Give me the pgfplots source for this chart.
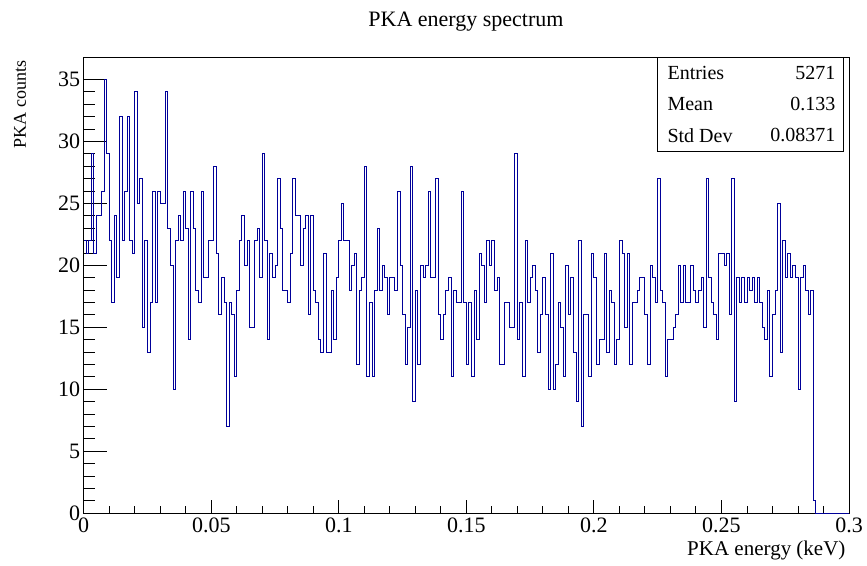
\documentclass[border=0pt]{standalone}
\usepackage{fontspec}
\setmainfont{Liberation Serif}
\usepackage{pgfplots}
\pgfplotsset{compat=1.18}
\definecolor{rootblue}{rgb}{0,0,0.6}
\begin{document}
\begin{tikzpicture}[x=1pt,y=1pt]
\useasboundingbox[fill=white] (0,0) rectangle (867,565);
% frame + x ticks
\begin{axis}[at={(83.7pt,51.7pt)}, anchor=south west, scale only axis,
  width=765.3pt, height=455.6pt,
  xmin=0, xmax=0.3, ymin=0, ymax=36.75,
  tick align=inside, tick pos=left,
  xtick={0,0.05,0.1,0.15,0.2,0.25,0.3},
  xticklabels={0,0.05,0.1,0.15,0.2,0.25,0.3},
  minor x tick num=4, ytick=\empty,
  major tick length=13.7pt, minor tick length=6.85pt,
  axis line style={line width=0.9pt},
  every tick/.style={black, line width=0.9pt},
  xticklabel style={font=\fontsize{22}{24}\selectfont, yshift=-1pt},
  /pgf/number format/assume math mode=true]
\end{axis}
% y ticks + histogram
\begin{axis}[at={(83.7pt,51.7pt)}, anchor=south west, scale only axis,
  width=765.3pt, height=455.6pt,
  xmin=0, xmax=0.3, ymin=0, ymax=36.75,
  tick align=inside, tick pos=left,
  ytick={0,5,10,15,20,25,30,35},
  yticklabels={0,5,10,15,20,25,30,35},
  minor y tick num=4, xtick=\empty,
  major tick length=23pt, minor tick length=11.5pt,
  axis line style={line width=0.9pt},
  every tick/.style={black, line width=0.9pt},
  yticklabel style={font=\fontsize{22}{24}\selectfont, xshift=0pt},
  /pgf/number format/assume math mode=true]
\addplot[const plot, rootblue, line width=0.9pt, mark=none] coordinates {
(0.000,22) (0.001,21) (0.002,22) (0.003,29) (0.004,21) (0.005,24) (0.006,24) (0.007,26) (0.008,35) (0.009,29)
(0.010,22) (0.011,17) (0.012,24) (0.013,19) (0.014,32) (0.015,22) (0.016,26) (0.017,32) (0.018,22) (0.019,21)
(0.020,34) (0.021,25) (0.022,27) (0.023,15) (0.024,22) (0.025,13) (0.026,17) (0.027,26) (0.028,17) (0.029,26)
(0.030,25) (0.031,25) (0.032,34) (0.033,23) (0.034,20) (0.035,10) (0.036,22) (0.037,24) (0.038,22) (0.039,26)
(0.040,23) (0.041,14) (0.042,26) (0.043,23) (0.044,18) (0.045,17) (0.046,26) (0.047,19) (0.048,19) (0.049,22)
(0.050,22) (0.051,28) (0.052,21) (0.053,16) (0.054,19) (0.055,17) (0.056,7) (0.057,17) (0.058,16) (0.059,11)
(0.060,18) (0.061,22) (0.062,24) (0.063,20) (0.064,22) (0.065,15) (0.066,15) (0.067,22) (0.068,23) (0.069,19)
(0.070,29) (0.071,22) (0.072,14) (0.073,21) (0.074,19) (0.075,20) (0.076,27) (0.077,23) (0.078,18) (0.079,18)
(0.080,17) (0.081,21) (0.082,27) (0.083,24) (0.084,24) (0.085,20) (0.086,23) (0.087,24) (0.088,16) (0.089,24)
(0.090,18) (0.091,17) (0.092,14) (0.093,13) (0.094,21) (0.095,13) (0.096,13) (0.097,18) (0.098,14) (0.099,19)
(0.100,22) (0.101,25) (0.102,22) (0.103,22) (0.104,18) (0.105,20) (0.106,21) (0.107,12) (0.108,18) (0.109,19)
(0.110,28) (0.111,11) (0.112,17) (0.113,11) (0.114,18) (0.115,23) (0.116,18) (0.117,20) (0.118,19) (0.119,16)
(0.120,19) (0.121,19) (0.122,18) (0.123,26) (0.124,20) (0.125,16) (0.126,12) (0.127,15) (0.128,28) (0.129,9)
(0.130,18) (0.131,12) (0.132,20) (0.133,19) (0.134,20) (0.135,26) (0.136,19) (0.137,19) (0.138,27) (0.139,16)
(0.140,14) (0.141,16) (0.142,18) (0.143,19) (0.144,11) (0.145,18) (0.146,17) (0.147,17) (0.148,26) (0.149,17)
(0.150,12) (0.151,17) (0.152,11) (0.153,18) (0.154,14) (0.155,21) (0.156,20) (0.157,17) (0.158,22) (0.159,20)
(0.160,22) (0.161,18) (0.162,19) (0.163,12) (0.164,12) (0.165,17) (0.166,17) (0.167,15) (0.168,15) (0.169,29)
(0.170,14) (0.171,17) (0.172,11) (0.173,22) (0.174,17) (0.175,19) (0.176,20) (0.177,18) (0.178,13) (0.179,16)
(0.180,19) (0.181,16) (0.182,10) (0.183,21) (0.184,10) (0.185,12) (0.186,17) (0.187,15) (0.188,11) (0.189,20)
(0.190,16) (0.191,19) (0.192,13) (0.193,9) (0.194,22) (0.195,7) (0.196,16) (0.197,16) (0.198,11) (0.199,21)
(0.200,19) (0.201,12) (0.202,14) (0.203,14) (0.204,21) (0.205,13) (0.206,18) (0.207,17) (0.208,12) (0.209,14)
(0.210,22) (0.211,21) (0.212,15) (0.213,21) (0.214,12) (0.215,17) (0.216,17) (0.217,18) (0.218,19) (0.219,19)
(0.220,16) (0.221,12) (0.222,20) (0.223,19) (0.224,17) (0.225,27) (0.226,18) (0.227,17) (0.228,11) (0.229,14)
(0.230,14) (0.231,15) (0.232,16) (0.233,20) (0.234,17) (0.235,20) (0.236,17) (0.237,17) (0.238,20) (0.239,18)
(0.240,17) (0.241,18) (0.242,19) (0.243,15) (0.244,27) (0.245,19) (0.246,17) (0.247,16) (0.248,14) (0.249,21)
(0.250,21) (0.251,20) (0.252,21) (0.253,16) (0.254,27) (0.255,9) (0.256,19) (0.257,17) (0.258,19) (0.259,17)
(0.260,19) (0.261,18) (0.262,19) (0.263,17) (0.264,19) (0.265,17) (0.266,15) (0.267,14) (0.268,18) (0.269,11)
(0.270,16) (0.271,18) (0.272,25) (0.273,13) (0.274,22) (0.275,19) (0.276,21) (0.277,19) (0.278,20) (0.279,19)
(0.280,10) (0.281,19) (0.282,20) (0.283,18) (0.284,16) (0.285,18) (0.286,1) (0.287,0) (0.300,0)
};
\end{axis}
% title and axis titles
\node[font=\fontsize{22}{24}\selectfont] at (466,543) {PKA energy spectrum};
\node[font=\fontsize{18}{20}\selectfont, rotate=90, anchor=east] at (20,508) {PKA counts};
\node[font=\fontsize{21}{24}\selectfont, anchor=east] at (849,15) {PKA energy (keV)};
% stats box
\draw[line width=0.9pt, fill=white] (657,414) rectangle (843,508);
\begin{scope}[font=\fontsize{20}{22}\selectfont]
\node[anchor=west] at (664,492.3) {Entries};
\node[anchor=east] at (839,492.3) {5271};
\node[anchor=west] at (664,461) {Mean};
\node[anchor=east] at (839,461) {0.133};
\node[anchor=west] at (664,429.7) {Std Dev};
\node[anchor=east] at (839,429.7) {0.08371};
\end{scope}
\end{tikzpicture}
\end{document}
